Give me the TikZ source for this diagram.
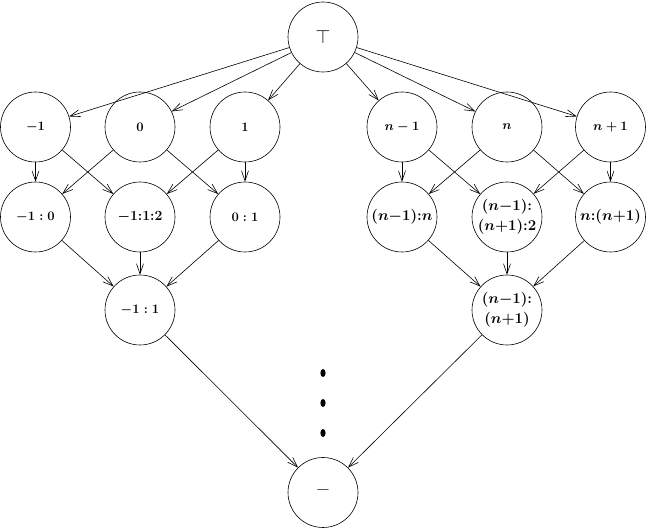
\RequirePackage{fix-cm}
\documentclass[tikz,border=0pt]{standalone}
\usepackage{amsmath}
\usepackage{tikz}
\usetikzlibrary{arrows.meta}

\begin{document}
\begin{tikzpicture}[x=1pt,y=1pt,
    lat/.style={circle,draw,line width=0.6pt,minimum size=70pt,inner sep=0pt,align=center,
      font=\fontsize{13}{19}\selectfont\bfseries\boldmath},
    big/.style={font=\fontsize{15}{20}\selectfont\bfseries\boldmath},
    edge/.style={line width=0.6pt,-{Straight Barb[length=10pt,width=7pt,line width=0.6pt]}}]
  \useasboundingbox (0,0) rectangle (646,528);

  % Top and bottom
  \node[lat,font=\fontsize{19}{20}\selectfont] (top) at (323,491) {$\top$};
  \node[lat,font=\fontsize{20}{20}\selectfont\bfseries] (bot) at (323,35.5) {\raisebox{-2pt}{--}};

  % First row
  \node[lat] (m1) at (35.5,401) {$-1$};
  \node[lat] (z)  at (140,401) {$0$};
  \node[lat] (p1) at (245,401) {$1$};
  \node[lat] (nm) at (402,401) {$n-1$};
  \node[lat] (n)  at (507,401) {$n$};
  \node[lat] (np) at (610.5,401) {$n+1$};

  % Second row
  \node[lat] (m1z)  at (35.5,311) {$-1:0$};
  \node[lat,font=\fontsize{14}{19}\selectfont\bfseries\boldmath] (m1p1) at (140,311) {$-1{:}1{:}2$};
  \node[lat] (zp1)  at (245,311) {$0:1$};
  \node[lat,big] (nmn)  at (402,311) {$(n{-}1){:}n$};
  \node[lat,big] (nmnp) at (507,311) {$(n{-}1){:}$\\$(n{+}1){:}2$};
  \node[lat,big] (nnp)  at (610.5,311) {$n{:}(n{+}1)$};

  % Third row
  \node[lat] (m1to1) at (140,218) {$-1:1$};
  \node[lat,big] (nmtonp) at (507,218) {$(n{-}1){:}$\\$(n{+}1)$};

  % Dots
  \fill (323,155) ellipse (2.6 and 4);
  \fill (323,125) ellipse (2.6 and 4);
  \fill (323,95) ellipse (2.6 and 4);

  % Edges
  \foreach \t in {m1,z,p1,nm,n,np}
    \draw[edge] (top) -- (\t);
  \draw[edge] (m1) -- (m1z);
  \draw[edge] (m1) -- (m1p1);
  \draw[edge] (z) -- (m1z);
  \draw[edge] (z) -- (zp1);
  \draw[edge] (p1) -- (m1p1);
  \draw[edge] (p1) -- (zp1);
  \draw[edge] (nm) -- (nmn);
  \draw[edge] (nm) -- (nmnp);
  \draw[edge] (n) -- (nmn);
  \draw[edge] (n) -- (nnp);
  \draw[edge] (np) -- (nmnp);
  \draw[edge] (np) -- (nnp);
  \foreach \s in {m1z,m1p1,zp1}
    \draw[edge] (\s) -- (m1to1);
  \foreach \s in {nmn,nmnp,nnp}
    \draw[edge] (\s) -- (nmtonp);
  \draw[edge] (m1to1) -- (bot);
  \draw[edge] (nmtonp) -- (bot);

\end{tikzpicture}
\end{document}
